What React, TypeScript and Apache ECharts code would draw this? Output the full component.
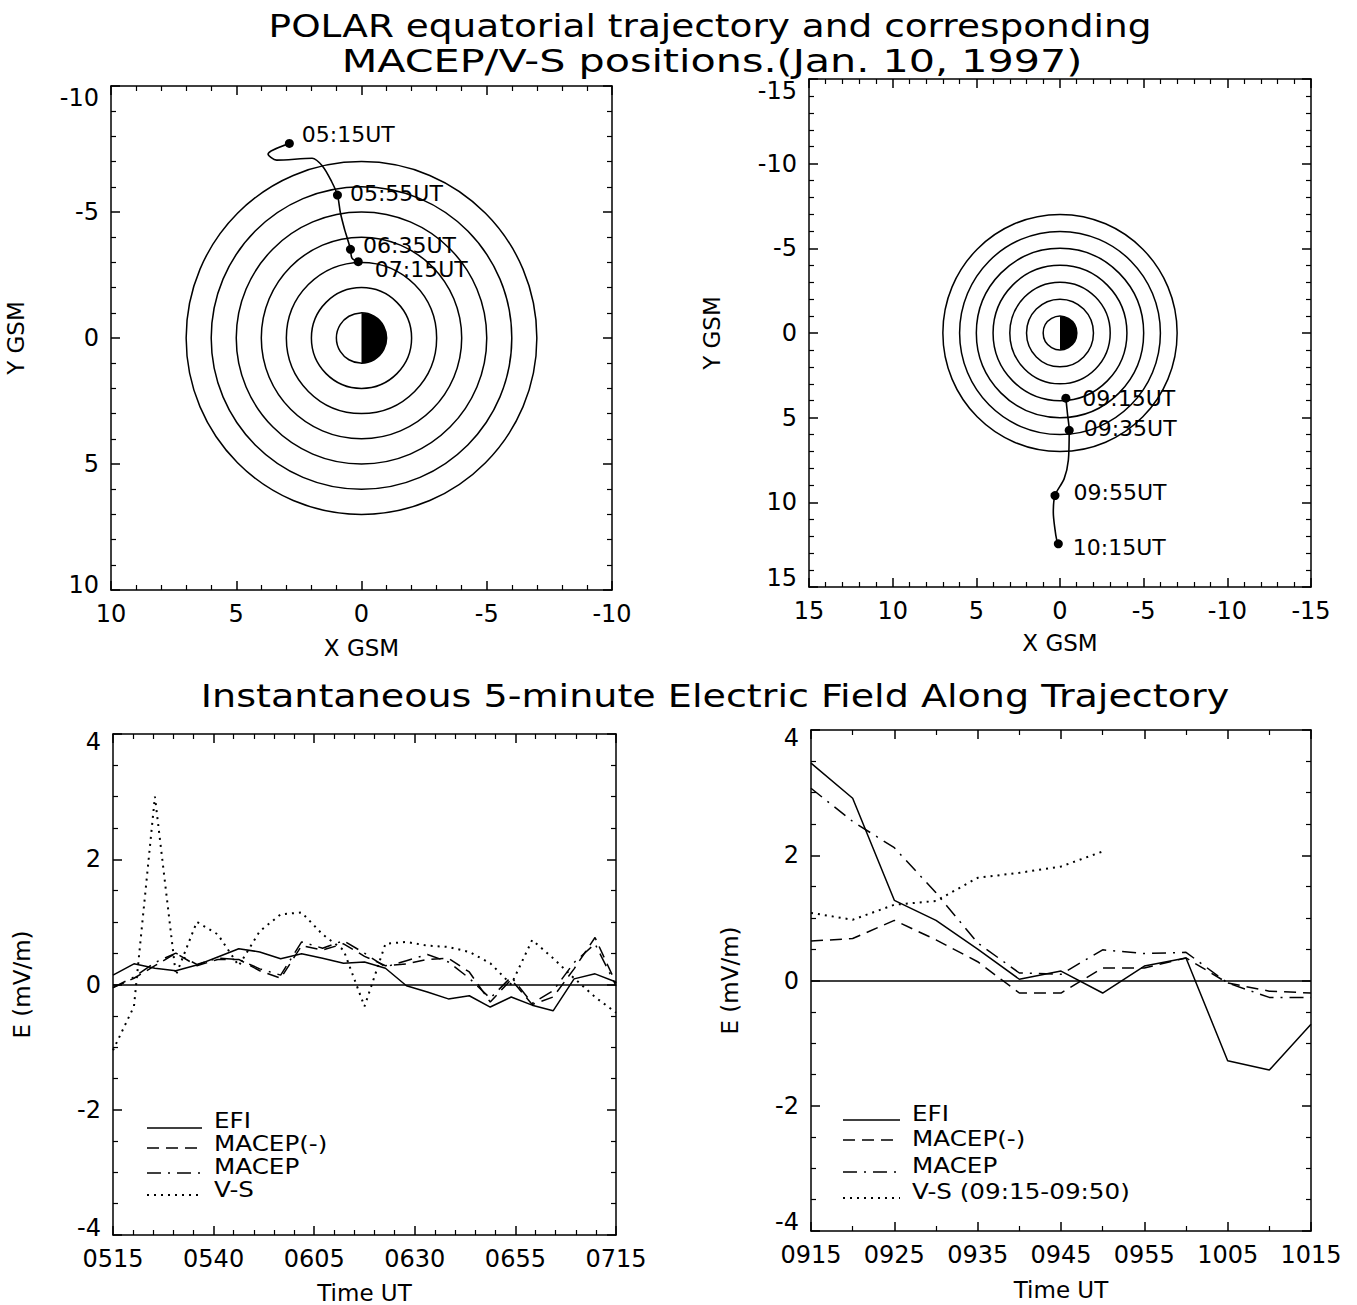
import React, { useEffect, useRef } from 'react';
import * as echarts from 'echarts';

const FONT = 'DejaVu Sans';

// ---------- Top panels: equatorial trajectory ----------
const ringRadii = [2, 3, 4, 5, 6, 7];
const earthRadius = [1];

const trajLeftX = [2.88, 3.73, 3.39, 1.97, 1.54, 1.19, 0.96, 0.84, 0.67, 0.58, 0.44, 0.38, 0.13];
const trajLeftY = [-7.72, -7.3, -7.06, -7.13, -6.8, -6.2, -5.67, -4.96, -4.29, -4.0, -3.52, -3.17, -3.03];
const markLeftNames = ['05:15UT', '05:55UT', '06:35UT', '07:15UT'];
const markLeftX = [2.88, 0.96, 0.44, 0.13];
const markLeftY = [-7.72, -5.67, -3.52, -3.03];

const trajRightX = [-0.35, -0.45, -0.55, -0.5, -0.25, 0.3, 0.4, 0.3, 0.2, 0.1, -0.04];
const trajRightY = [3.85, 4.8, 5.75, 7.5, 8.6, 9.6, 10.6, 11.6, 12.2, 12.45, 12.65];
const markRightNames = ['09:15UT', '09:35UT', '09:55UT', '10:15UT'];
const markRightX = [-0.35, -0.55, 0.3, 0.1];
const markRightY = [3.85, 5.75, 9.6, 12.45];

// ---------- Bottom panels: electric field ----------
const timeLeftTicks = ['0515', '0540', '0605', '0630', '0655', '0715'];
const minutesLeft = [0, 5, 10, 15, 20, 25, 30, 35, 40, 45, 50, 55, 60, 65, 70, 75, 80, 85, 90, 95, 100, 105, 110, 115, 120];
const efiLeft = [0.15, 0.33, 0.26, 0.22, 0.31, 0.44, 0.57, 0.52, 0.41, 0.49, 0.42, 0.34, 0.36, 0.26, -0.02, -0.12, -0.23, -0.18, -0.36, -0.2, -0.33, -0.42, 0.09, 0.17, 0.04];
const macepNegLeft = [-0.05, 0.1, 0.3, 0.5, 0.3, 0.4, 0.4, 0.22, 0.1, 0.62, 0.55, 0.65, 0.45, 0.3, 0.33, 0.4, 0.42, 0.2, -0.28, 0.08, -0.32, -0.2, 0.25, 0.75, 0.02];
const macepLeft = [-0.05, 0.12, 0.35, 0.5, 0.32, 0.42, 0.4, 0.25, 0.15, 0.68, 0.58, 0.7, 0.5, 0.28, 0.38, 0.48, 0.36, 0.1, -0.22, 0.12, -0.3, -0.1, 0.35, 0.65, -0.02];
const vsLeft = [-1.05, -0.35, 3.0, 0.15, 1.0, 0.8, 0.3, 0.85, 1.12, 1.15, 0.8, 0.55, -0.35, 0.65, 0.68, 0.62, 0.6, 0.52, 0.34, 0.0, 0.71, 0.42, 0.1, -0.2, -0.45];

const timeRightTicks = ['0915', '0925', '0935', '0945', '0955', '1005', '1015'];
const minutesRight = [0, 5, 10, 15, 20, 25, 30, 35, 40, 45, 50, 55, 60];
const efiRight = [3.47, 2.91, 1.28, 0.96, 0.5, 0.02, 0.15, -0.2, 0.23, 0.36, -1.28, -1.43, -0.7];
const macepNegRight = [0.63, 0.67, 0.96, 0.65, 0.3, -0.2, -0.2, 0.2, 0.2, 0.36, -0.04, -0.17, -0.2];
const macepRight = [3.07, 2.54, 2.12, 1.4, 0.6, 0.12, 0.1, 0.49, 0.43, 0.45, -0.04, -0.27, -0.27];
const minutesVsRight = [0, 5, 10, 15, 20, 25, 30, 35];
const vsRight = [1.08, 0.97, 1.21, 1.27, 1.64, 1.72, 1.82, 2.06];

const legendNamesLeft = ['EFI', 'MACEP(-)', 'MACEP', 'V-S'];
const legendNamesRight = ['EFI', 'MACEP(-)', 'MACEP', 'V-S (09:15-09:50)'];

// ---------- styles (label nudges, not data) ----------
const markLeftLabelNudge = [[0, -9], [0, -2], [0, -4], [4, 8]];
const markRightLabelNudge = [[2, 0], [0, -2], [4, -3], [0, 4]];

const BLACK = '#000';
const DASH = [12, 7];
const DASHDOT = [14, 7, 2, 7];
const DOT = [2, 5];
const dashes = ['solid', DASH, DASHDOT, DOT];

const axLine = { color: BLACK, width: 1.5 };

function makeXAxes(gridIndex: number, min: number, max: number, interval: number, minorSplit: number,
  inverse: boolean, formatter: any, name: string, nameGap: number) {
  const common = {
    type: 'value', gridIndex, min, max, interval, inverse,
    axisLine: { show: true, onZero: false, lineStyle: axLine },
    axisTick: { show: true, inside: true, length: 9, lineStyle: axLine },
    minorTick: { show: true, splitNumber: minorSplit, length: 5, lineStyle: { color: BLACK, width: 1.2 } },
    splitLine: { show: false },
    minorSplitLine: { show: false },
  };
  return [
    {
      ...common, position: 'bottom',
      axisLabel: { show: true, margin: 12, color: BLACK, fontSize: 24, fontFamily: FONT, formatter },
      name, nameLocation: 'middle', nameGap,
      nameTextStyle: { color: BLACK, fontSize: 23, fontFamily: FONT },
    },
    { ...common, position: 'top', axisLabel: { show: false } },
  ];
}

function makeYAxes(gridIndex: number, min: number, max: number, interval: number, minorSplit: number,
  inverse: boolean, name: string, nameGap: number, topPad: number, botPad: number) {
  const common = {
    type: 'value', gridIndex, min, max, interval, inverse,
    axisLine: { show: true, onZero: false, lineStyle: axLine },
    axisTick: { show: true, inside: true, length: 9, lineStyle: axLine },
    minorTick: { show: true, splitNumber: minorSplit, length: 5, lineStyle: { color: BLACK, width: 1.2 } },
    splitLine: { show: false },
    minorSplitLine: { show: false },
  };
  const topVal = inverse ? min : max;
  const botVal = inverse ? max : min;
  const txt = { color: BLACK, fontSize: 24, fontFamily: FONT };
  return [
    {
      ...common, position: 'left',
      axisLabel: {
        show: true, margin: 12, ...txt,
        formatter: (v: number) => {
          const s = String(v);
          if (v === topVal) return `{dn|${s}}`;
          if (v === botVal) return `{up|${s}}`;
          return s;
        },
        rich: {
          dn: { ...txt, padding: [topPad, 0, 0, 0] },
          up: { ...txt, padding: [0, 0, botPad, 0] },
        },
      },
      name, nameLocation: 'middle', nameGap,
      nameTextStyle: { color: BLACK, fontSize: 23, fontFamily: FONT },
    },
    { ...common, position: 'right', axisLabel: { show: false } },
  ];
}

function ringSeries(axisIndex: number) {
  return {
    type: 'custom', coordinateSystem: 'cartesian2d', xAxisIndex: axisIndex, yAxisIndex: axisIndex,
    silent: true, clip: true,
    data: ringRadii.map((r) => [0, 0, r]),
    renderItem: (_p: any, api: any) => {
      const c = api.coord([api.value(0), api.value(1)]);
      const s = api.size([api.value(2), api.value(2)]);
      return {
        type: 'ellipse',
        shape: { cx: c[0], cy: c[1], rx: s[0], ry: s[1] },
        style: { fill: 'none', stroke: BLACK, lineWidth: 1.5 },
      };
    },
  };
}

function earthSeries(axisIndex: number) {
  return {
    type: 'custom', coordinateSystem: 'cartesian2d', xAxisIndex: axisIndex, yAxisIndex: axisIndex,
    silent: true, clip: true,
    data: earthRadius.map((r) => [0, 0, r]),
    renderItem: (_p: any, api: any) => {
      const c = api.coord([api.value(0), api.value(1)]);
      const s = api.size([api.value(2), api.value(2)]);
      const r = (s[0] + s[1]) / 2;
      return {
        type: 'group',
        children: [
          { type: 'circle', shape: { cx: c[0], cy: c[1], r }, style: { fill: '#fff', stroke: 'none' } },
          {
            type: 'sector',
            shape: { cx: c[0], cy: c[1], r0: 0, r, startAngle: -Math.PI / 2, endAngle: Math.PI / 2, clockwise: true },
            style: { fill: BLACK },
          },
          { type: 'circle', shape: { cx: c[0], cy: c[1], r }, style: { fill: 'none', stroke: BLACK, lineWidth: 1.5 } },
        ],
      };
    },
  };
}

function trajSeries(axisIndex: number, xs: number[], ys: number[]) {
  return {
    type: 'line', xAxisIndex: axisIndex, yAxisIndex: axisIndex, showSymbol: false, silent: true,
    smooth: 0.3,
    data: xs.map((x, i) => [x, ys[i]]),
    lineStyle: { color: BLACK, width: 1.6 },
  };
}

function markSeries(axisIndex: number, names: string[], xs: number[], ys: number[], distance: number, nudges: number[][]) {
  return {
    type: 'scatter', xAxisIndex: axisIndex, yAxisIndex: axisIndex, silent: true,
    symbol: 'circle', symbolSize: 9, itemStyle: { color: BLACK, opacity: 1 },
    data: names.map((n, i) => ({ name: n, value: [xs[i], ys[i]], label: { offset: nudges[i] } })),
    label: {
      show: true, position: 'right', distance, formatter: '{b}', opacity: 1,
      color: BLACK, fontSize: 22, fontFamily: FONT,
    },
  };
}

function fieldSeries(axisIndex: number, xs: number[], ys: number[], dash: any, name: string, zero: boolean) {
  const s: any = {
    type: 'line', name, xAxisIndex: axisIndex, yAxisIndex: axisIndex, showSymbol: false, silent: true,
    data: xs.map((x, i) => [x, ys[i]]),
    lineStyle: { color: BLACK, width: dash === DOT ? 2 : 1.5, type: dash },
  };
  if (zero) {
    s.markLine = {
      silent: true, symbol: 'none', label: { show: false },
      lineStyle: { color: BLACK, type: 'solid', width: 1.5 },
      data: [{ yAxis: 0 }],
    };
  }
  return s;
}

function legendGraphics(names: string[], x0: number, x1: number, tx: number, lineYs: number[], textYs: number[]) {
  const els: any[] = [];
  names.forEach((n, i) => {
    const d = dashes[i];
    els.push({
      type: 'line', silent: true,
      shape: { x1: x0, y1: lineYs[i], x2: x1, y2: lineYs[i] },
      style: { stroke: BLACK, lineWidth: d === DOT ? 2 : 1.5, lineDash: d === 'solid' ? null : d },
    });
    els.push({
      type: 'text', silent: true, x: tx, y: textYs[i], scaleX: 1.12,
      style: {
        text: n, fill: BLACK, fontSize: 22, fontFamily: FONT,
        align: 'left', textAlign: 'left', verticalAlign: 'middle', textVerticalAlign: 'middle',
      },
    });
  });
  return els;
}

function titleText(text: string, x: number, y: number, size: number, scaleX: number) {
  return {
    type: 'text', silent: true, x, y, scaleX,
    style: {
      text, fill: BLACK, fontSize: size, fontFamily: FONT,
      align: 'center', textAlign: 'center', verticalAlign: 'middle', textVerticalAlign: 'middle',
    },
  };
}

export default function App() {
  const ref = useRef<HTMLDivElement>(null);

  useEffect(() => {
    document.body.style.margin = '0';
    if (!ref.current) return;
    const chart = echarts.init(ref.current, null, { renderer: 'svg' });

    const fmtLeft = (v: number) => timeLeftTicks[Math.round(v / 24)] ?? '';
    const fmtRight = (v: number) => timeRightTicks[Math.round(v / 10)] ?? '';

    const option: any = {
      animation: false,
      backgroundColor: '#fff',
      grid: [
        { left: 111, top: 86, width: 501, height: 504, outerBoundsMode: 'none' },
        { left: 809, top: 79, width: 502, height: 508, outerBoundsMode: 'none' },
        { left: 113, top: 734, width: 503, height: 501, outerBoundsMode: 'none' },
        { left: 811, top: 730, width: 500, height: 501, outerBoundsMode: 'none' },
      ],
      xAxis: [
        ...makeXAxes(0, -10, 10, 5, 5, true, undefined, 'X GSM', 46),
        ...makeXAxes(1, -15, 15, 5, 5, true, undefined, 'X GSM', 44),
        ...makeXAxes(2, 0, 120, 24, 5, false, fmtLeft, 'Time UT', 46),
        ...makeXAxes(3, 0, 60, 10, 2, false, fmtRight, 'Time UT', 47),
      ],
      yAxis: [
        ...makeYAxes(0, -10, 10, 5, 5, true, 'Y GSM', 84, 24, 10),
        ...makeYAxes(1, -15, 15, 5, 5, true, 'Y GSM', 86, 24, 18),
        ...makeYAxes(2, -4, 4, 2, 4, false, 'E (mV/m)', 80, 16, 14),
        ...makeYAxes(3, -4, 4, 2, 4, false, 'E (mV/m)', 70, 16, 18),
      ],
      series: [
        ringSeries(0), earthSeries(0),
        trajSeries(0, trajLeftX, trajLeftY),
        markSeries(0, markLeftNames, markLeftX, markLeftY, 8, markLeftLabelNudge),
        ringSeries(2), earthSeries(2),
        trajSeries(2, trajRightX, trajRightY),
        markSeries(2, markRightNames, markRightX, markRightY, 10, markRightLabelNudge),
        fieldSeries(4, minutesLeft, efiLeft, 'solid', 'EFI', true),
        fieldSeries(4, minutesLeft, macepNegLeft, DASH, 'MACEP(-)', false),
        fieldSeries(4, minutesLeft, macepLeft, DASHDOT, 'MACEP', false),
        fieldSeries(4, minutesLeft, vsLeft, DOT, 'V-S', false),
        fieldSeries(6, minutesRight, efiRight, 'solid', 'EFI', true),
        fieldSeries(6, minutesRight, macepNegRight, DASH, 'MACEP(-)', false),
        fieldSeries(6, minutesRight, macepRight, DASHDOT, 'MACEP', false),
        fieldSeries(6, minutesVsRight, vsRight, DOT, 'V-S (09:15-09:50)', false),
      ],
      graphic: [
        titleText('POLAR equatorial trajectory and corresponding', 710, 26, 32, 1.17),
        titleText('MACEP/V-S positions.(Jan. 10, 1997)', 712, 61, 32, 1.29),
        titleText('Instantaneous 5-minute Electric Field Along Trajectory', 715, 696, 32, 1.19),
        ...legendGraphics(legendNamesLeft, 147, 202, 214, [1128, 1148, 1173, 1195], [1120, 1143, 1166, 1189]),
        ...legendGraphics(legendNamesRight, 843, 900, 912, [1120, 1140, 1172, 1198], [1113, 1138, 1165, 1191]),
      ],
    };

    chart.setOption(option);
    return () => chart.dispose();
  }, []);

  return <div ref={ref} style={{ width: 1357, height: 1305 }} />;
}
